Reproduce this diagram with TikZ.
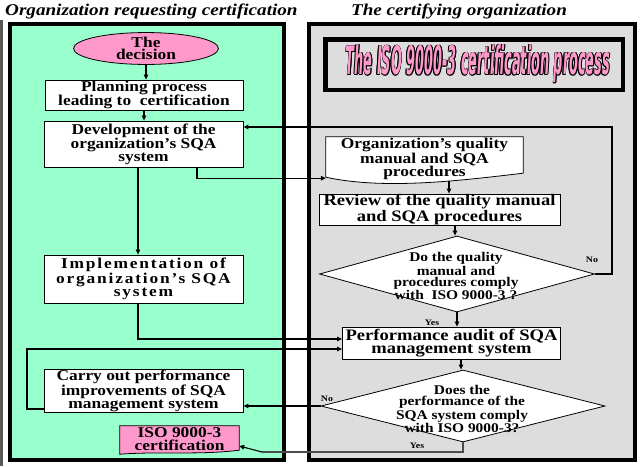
\documentclass[tikz,border=0pt]{standalone}
\usepackage{fontspec}
\setmainfont{Liberation Serif}[FakeStretch=1.16]
\newfontfamily\bannerfont{DejaVu Sans}
\usepackage{graphicx}
\usetikzlibrary{shapes.geometric,arrows.meta}
\definecolor{panelgreen}{RGB}{153,255,204}
\definecolor{panelgray}{RGB}{221,221,221}
\definecolor{pinkfill}{RGB}{255,153,204}
\newcommand{\bannertext}{\resizebox*{264pt}{38pt}{\bannerfont\bfseries\itshape The ISO 9000-3 certification process}}
\pgfdeclarelayer{bglayer}
\pgfdeclarelayer{doclayer}
\pgfsetlayers{bglayer,doclayer,main}
\tikzset{
  box/.style={draw, fill=white, line width=0.8pt, inner sep=0pt, align=center,
    font=\bfseries\fontsize{15}{13}\selectfont},
  docbox/.style={inner sep=0pt, align=center, font=\bfseries\fontsize{15}{13}\selectfont},
  decision/.style={diamond, draw, fill=white, line width=0.8pt, inner sep=0pt},
  dtext/.style={inner sep=0pt, align=center, font=\bfseries\fontsize{13.3}{11}\selectfont},
  conn/.style={line width=1.1pt, -{Triangle[length=5pt,width=4.5pt]}},
  plainconn/.style={line width=1.1pt},
  lbl/.style={inner sep=0pt, font=\bfseries\fontsize{8.5}{9}\selectfont},
  ttl/.style={inner sep=0pt, font=\bfseries\itshape\fontsize{16.5}{18}\selectfont},
  panel/.style={line width=4pt},
}
\begin{document}
\begin{tikzpicture}[x=1pt,y=-1pt]
\useasboundingbox (0,0) rectangle (640,466);

% titles
\node[ttl, anchor=base west] (t1) at (5,15) {Organization requesting certification};
\node[ttl, anchor=base] (t2) at (459,15) {The certifying organization};

% left side nodes
\node[ellipse, draw, fill=pinkfill, line width=0.8pt, minimum width=145pt, minimum height=31pt,
      inner sep=0pt, align=center, font=\bfseries\fontsize{15}{12}\selectfont] (dec) at (146,48.5) {The\\decision};
\node[box, minimum width=198pt, minimum height=30pt, font=\bfseries\fontsize{15}{12}\selectfont] (plan) at (144,95) {Planning process\\leading to\ \ certification};
\node[box, minimum width=199pt, minimum height=46pt, font=\bfseries\fontsize{15}{12.5}\selectfont] (dev) at (143.5,144) {Development of the\\organization’s SQA\\system};
\node[box, minimum width=199pt, minimum height=48pt,
      font=\bfseries\fontsize{15}{13.5}\selectfont\addfontfeatures{LetterSpace=12}] (impl) at (143.5,279) {Implementation of\\organization’s SQA\\system};
\node[box, minimum width=199pt, minimum height=43pt] (carry) at (143.5,390.5) {Carry out performance\\improvements of SQA\\management system};
\node[docbox, minimum width=119pt, minimum height=26pt, font=\bfseries\fontsize{15}{12.5}\selectfont] (cert) at (179.5,439) {ISO 9000-3\\certification};

% right side nodes
\node[draw, line width=4.5pt, fill=panelgray, minimum width=297.5pt, minimum height=50.5pt, inner sep=0pt] (banner) at (474,64.5) {};
\foreach \dx/\dy [count=\i] in {0.8/0,-0.8/0,0/0.8,0/-0.8,0.6/0.6,-0.6/0.6,0.6/-0.6,-0.6/-0.6}{
  \node[inner sep=0pt, text=black] (bo\i) at ([shift={(\dx pt,\dy pt)}]478,64) {\bannertext};
}
\node[inner sep=0pt, text=pinkfill] (btext) at (478,64) {\bannertext};

\node[docbox, minimum width=197pt, minimum height=44pt] (oqm) at (424.5,159) {Organization’s quality\\manual and SQA\\procedures};
\node[box, minimum width=241pt, minimum height=31pt, font=\bfseries\fontsize{16}{14}\selectfont] (rev) at (439.5,209.5) {Review of the quality manual\\and SQA procedures};
\node[decision, minimum width=275pt, minimum height=76pt] (d1) at (457,274) {};
\node[dtext] (d1t) at (456,276) {Do the quality\\manual and\\procedures comply\\with\ \ ISO 9000-3 ?};
\node[box, minimum width=218pt, minimum height=32pt, font=\bfseries\fontsize{16}{13}\selectfont] (audit) at (451.5,343) {Performance audit of SQA\\management system};
\node[decision, minimum width=284pt, minimum height=72pt] (d2) at (463,406) {};
\node[dtext] (d2t) at (462,409) {Does the\\performance of the\\SQA system comply\\with ISO 9000-3?};

% panels and document shapes behind
\begin{pgfonlayer}{bglayer}
  \fill[white] (0,0) rectangle (640,466);
  \draw[gray!70!black, line width=2.5pt] (1.5,20) -- (1.5,466);
  \draw[panel, fill=panelgreen] (10,24) rectangle (284,460);
  \draw[panel, fill=panelgray] (309,24) rectangle (635,459.5);
\end{pgfonlayer}
\begin{pgfonlayer}{doclayer}
  \draw[line width=0.8pt, fill=white] (oqm.north west) -- (oqm.north east) -- ([yshift=8pt]oqm.south east)
     .. controls ([xshift=-60pt,yshift=1pt]oqm.south east) and ([xshift=60pt,yshift=-9pt]oqm.south west) .. ([yshift=4pt]oqm.south west) -- cycle;
  \draw[line width=0.8pt, fill=pinkfill] (cert.north west) -- (cert.north east) -- ([yshift=2pt]cert.south east)
     .. controls ([xshift=-40pt,yshift=-3pt]cert.south east) and ([xshift=40pt,yshift=1pt]cert.south west) .. ([yshift=-2pt]cert.south west) -- cycle;
\end{pgfonlayer}

% connectors
\draw[conn] (dec.south) -- (dec.south |- plan.north);
\draw[conn] (plan.south) -- (plan.south |- dev.north);
\coordinate (devs) at ([xshift=-5.5pt]dev.south);
\draw[conn] (devs) -- (devs |- impl.north);
\coordinate (imps) at ([xshift=-5.5pt]impl.south);
\draw[conn] (imps) |- ([yshift=4pt]audit.west);
\coordinate (lp) at (27,349);
\draw[conn] ([yshift=-18.5pt]carry.west) -| (lp) -- ([yshift=-6pt]audit.west);
\coordinate (devr) at ([xshift=53.5pt]dev.south);
\draw[conn] (devr) |- ([yshift=3pt]oqm.south west);
\coordinate (oqs) at ([xshift=24.5pt]oqm.south);
\draw[conn] (oqs) -- (oqs |- rev.north);
\coordinate (revs) at ([xshift=15.5pt]rev.south);
\draw[conn] (revs) -- (revs |- d1.north);
\coordinate (nocorner) at (612,127);
\draw[conn] (d1.east) -| (nocorner) -- ([yshift=17pt]dev.east);
\draw[conn] (d1.south) -- (d1.south |- audit.north);
\coordinate (auds) at ([xshift=9.5pt]audit.south);
\draw[conn] (auds) -- (auds |- d2.north);
\draw[conn] (d2.west) -- (d2.west -| carry.east);
\coordinate (yc) at (262,452);
\draw[plainconn, gray!60!black] (d2.south) |- (yc);
\draw[conn] (yc) -- ([yshift=-7pt]cert.east);

% labels
\node[lbl] (no1) at (592,260) {No};
\node[lbl] (yes1) at (432,323) {Yes};
\node[lbl] (no2) at (327,399) {No};
\node[lbl] (yes2) at (417,446) {Yes};
\end{tikzpicture}
\end{document}
